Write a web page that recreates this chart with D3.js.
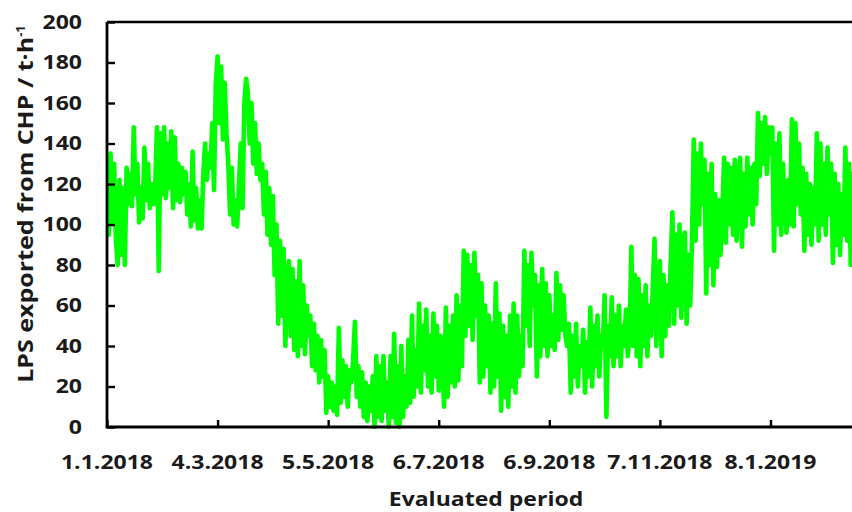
<!DOCTYPE html>
<html><head><meta charset="utf-8">
<script src="https://cdn.jsdelivr.net/npm/d3@7"></script>
<style>body{margin:0;background:#fff}svg{display:block}</style>
</head><body>
<svg id="chart" width="852" height="512"></svg>
<script>
// ---- data (daily samples, starting 1.1.2018) ----
const startDate = "2018-01-01";
const lpsValues = [
  120,95,135,100,130,92, 80,122,85,118,80, 128,110,125,109, 148,115,130, 101,118,103,
  138,112,130, 108,120,110,118, 148,77, 145,115,148,113,140,118,146, 108,143,112,
  130,111,128,115,126, 105,120,99,136,102,118, 98,112,98, 125,140,122,135,128,
  150,117,170,183, 150,178,142,170,145, 130,105,128,100,112, 99,120,140,108,160,172,
  165,140,160,130,150,125, 140,122,130, 105,126,95,118,90,114, 75,100,51,
  92,55,88,40,70, 82,45,78,38,72,35, 82,40,70,36,60, 45,55,30,51,28,45, 22,43,25,38,
  7,25,10,22,8,20,6,49, 12,33,15,30,10,28,22,33, 52,15,30, 10,27,5,22,3,20,8,25,
  0,35,5,30,3,35,8,22, 0,35,5,46,2,30,0,40,5,25, 10,43,12,55,15,38,
  20,61,17,50,28,58,20,45, 17,56,25,50,18,45,30, 10,59,15,50,22,55,20, 65,23,60,30,
  87,45,85,50,80,43,86,55,75, 22,71,25,60,30,55, 17,51,20,71,25, 56,8,50,15,45,10,55,20,
  61,17,55,25,45,30, 87,50,80,40,86,60,75,25,70,35,78,40, 71,35,65,40,55,38,76,43,70,
  48,65,45,40,51, 17,45,25,51,20,40,30,48,17,42,25, 59,20,50,30,55,25,45,40,65, 5,50,35,
  64,30,55,35,60,30,50,40,58,35,45, 89,40,75,35, 73,30,65,40,70,35,60,45,68, 93,40,70,
  82,35,75,45,70,50,80, 106,51,95,60,100,54,90, 96,51,85,60,92, 142,92,135,100,140,110,
  132,66,125,80,130,70,115, 79,112,85,105, 133,91,130,100,128,95,132,92,120, 133,89,125,
  99,133,105,128,100,130,110, 155,124,150,130,153,125,148,135, 148,87,140,100,145,95,130,110,
  96,122,100, 152,99,150,110,140,105, 128,87,125,95,120,90,118,100,
  145,92,140,100,130,95,138,105, 130,81,125,90,120,85,115,95,
  138,92,130,80,125,95,135,90,120,100,130
];
const yTicks = [0,20,40,60,80,100,120,140,160,180,200];
const xTickDates = ["2018-01-01","2018-03-04","2018-05-05","2018-07-06","2018-09-06","2018-11-07","2019-01-08"];
const xTickLabels = ["1.1.2018","4.3.2018","5.5.2018","6.7.2018","6.9.2018","7.11.2018","8.1.2019"];
const yTitleMain = "LPS exported from CHP / t·h";
const yTitleSup = "-1";
const xTitle = "Evaluated period";

// ---- layout ----
const svg = d3.select("#chart");
const mLeft = 107, mTop = 22, mBottom = 427, mRight = 865;
const parse = d3.utcParse("%Y-%m-%d");
const t0 = parse(startDate);
const dayMs = 864e5;
const data = lpsValues.map((v, i) => ({date: new Date(t0.getTime() + i * dayMs), v}));

const x = d3.scaleUtc().domain([t0, new Date(t0.getTime() + 425 * dayMs)]).range([mLeft, mRight]);
const y = d3.scaleLinear().domain([0, 200]).range([mBottom, mTop]);

svg.append("defs").append("clipPath").attr("id", "clip")
  .append("rect").attr("x", mLeft).attr("y", mTop - 3).attr("width", mRight - mLeft).attr("height", mBottom - mTop + 6);

const line = d3.line().x(d => x(d.date)).y(d => y(d.v));
svg.append("path").datum(data)
  .attr("clip-path", "url(#clip)")
  .attr("d", line)
  .attr("fill", "none")
  .attr("stroke", "#00ff00")
  .attr("stroke-width", 4.6)
  .attr("stroke-linejoin", "round")
  .attr("stroke-linecap", "round");

const font = "'Open Sans', sans-serif";
const stretch = 1.18;
function widen(sel) {
  sel.each(function () {
    const l = this.getComputedTextLength();
    d3.select(this).attr("textLength", l * stretch).attr("lengthAdjust", "spacingAndGlyphs");
  });
}

// top border
svg.append("line").attr("x1", mLeft).attr("x2", 857).attr("y1", mTop).attr("y2", mTop)
  .attr("stroke", "#000").attr("stroke-width", 2.6);

// y axis
const yAxis = svg.append("g").attr("transform", `translate(${mLeft},0)`)
  .call(d3.axisRight(y).tickValues(yTicks).tickSize(8).tickFormat(""));
yAxis.select(".domain").attr("stroke", "#000").attr("stroke-width", 2.8).attr("d", `M0,${mTop}V${mBottom}`);
yAxis.selectAll(".tick line").attr("stroke", "#000").attr("stroke-width", 2.4);

svg.append("g").selectAll("text").data(yTicks).join("text")
  .attr("x", 82).attr("y", d => y(d) + 6.8)
  .attr("text-anchor", "end")
  .attr("font-family", font).attr("font-weight", 700).attr("font-size", 19.5)
  .attr("fill", "#1a1a1a")
  .text(d => d)
  .call(widen);

// x axis
const xAxis = svg.append("g").attr("transform", `translate(0,${mBottom})`)
  .call(d3.axisTop(x).tickValues(xTickDates.map(parse)).tickSize(7).tickFormat(""));
xAxis.select(".domain").attr("stroke", "#000").attr("stroke-width", 3).attr("d", `M${mLeft - 1.4},0H860`);
xAxis.selectAll(".tick line").attr("stroke", "#000").attr("stroke-width", 2.4);

svg.append("g").selectAll("text").data(xTickDates).join("text")
  .attr("x", d => x(parse(d))).attr("y", 469)
  .attr("text-anchor", "middle")
  .attr("font-family", font).attr("font-weight", 700).attr("font-size", 19.5)
  .attr("fill", "#1a1a1a")
  .text((d, i) => xTickLabels[i])
  .call(widen);

// titles
svg.append("text").attr("x", 486).attr("y", 506).attr("text-anchor", "middle")
  .attr("font-family", font).attr("font-weight", 700).attr("font-size", 19.5)
  .attr("fill", "#1a1a1a").text(xTitle).call(widen);

const yt = svg.append("text")
  .attr("transform", "translate(33,204) rotate(-90)")
  .attr("text-anchor", "middle")
  .attr("font-family", font).attr("font-weight", 700).attr("font-size", 21)
  .attr("fill", "#1a1a1a");
yt.append("tspan").attr("textLength", 346).attr("lengthAdjust", "spacingAndGlyphs").text(yTitleMain);
yt.append("tspan").attr("font-size", 13).attr("dy", -8).text(yTitleSup);
</script>
</body></html>
